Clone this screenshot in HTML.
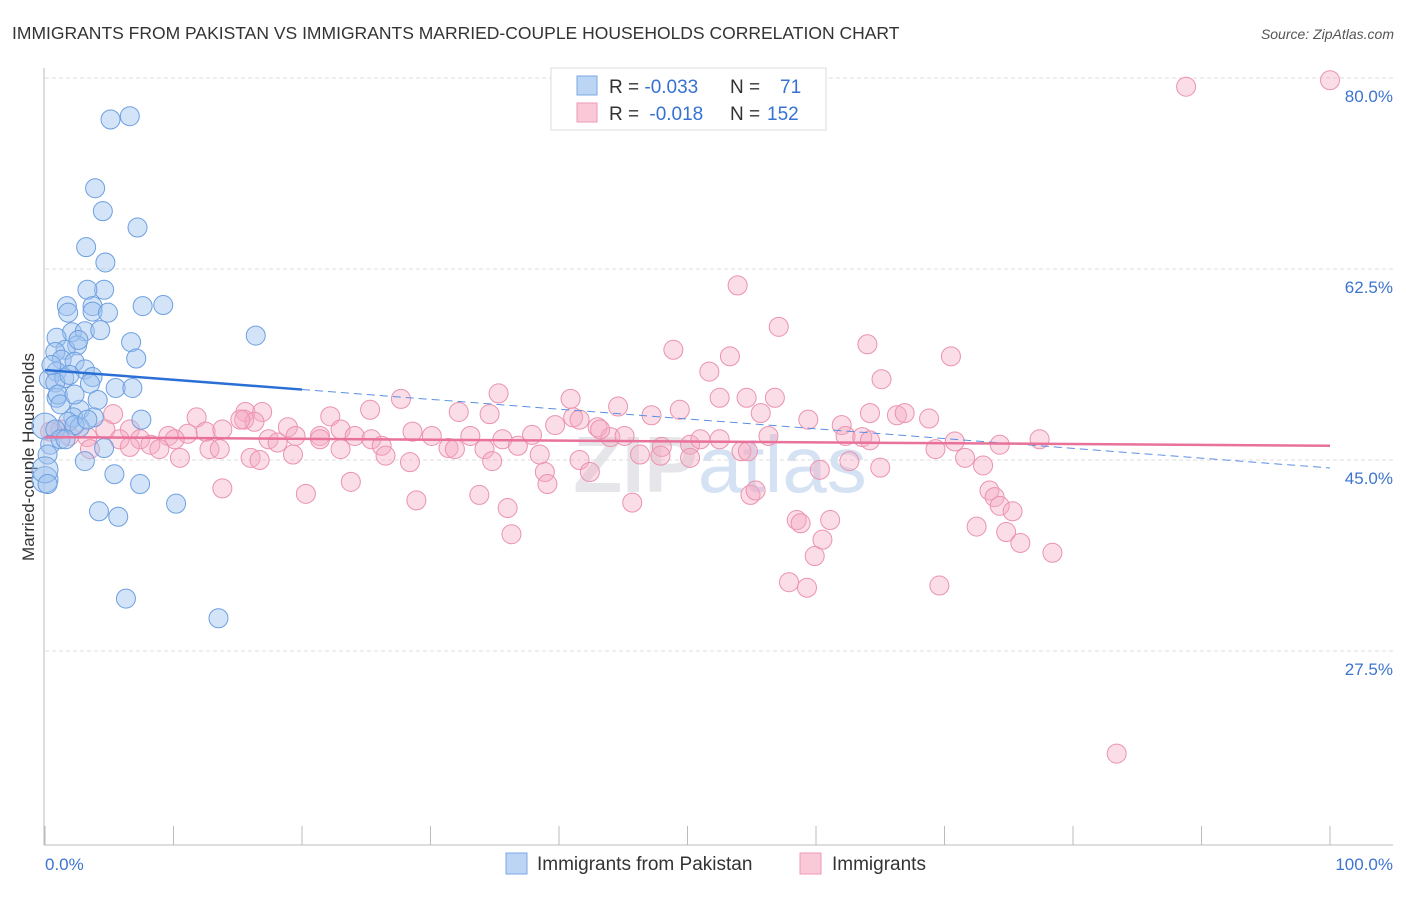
<!DOCTYPE html>
<html><head><meta charset="utf-8"><style>
body{margin:0;background:#fff;font-family:"Liberation Sans",sans-serif;}
</style></head><body>
<svg width="1406" height="892" viewBox="0 0 1406 892" xmlns="http://www.w3.org/2000/svg">
<text x="12" y="39" font-size="17.5" fill="#333">IMMIGRANTS FROM PAKISTAN VS IMMIGRANTS MARRIED-COUPLE HOUSEHOLDS CORRELATION CHART</text>
<text x="1394" y="39" font-size="14" fill="#555" font-style="italic" text-anchor="end">Source: ZipAtlas.com</text>
<text transform="translate(34,457) rotate(-90)" font-size="17" fill="#333" text-anchor="middle">Married-couple Households</text>
<text x="720" y="492" font-size="80" font-weight="bold" fill="#e6e6ea" text-anchor="middle">ZIP<tspan fill="#d4e2f4" font-weight="normal">atlas</tspan></text>
<g id="grid"></g>
<g id="axes"></g>
<g id="pts"></g>
<g id="trend"></g>
<g>
<rect x="551" y="68" width="275" height="62" fill="#fff" stroke="#ddd"/>
<rect x="577" y="76" width="20" height="19" fill="#bcd5f5" stroke="#7aa8e4"/>
<rect x="577" y="103" width="20" height="19" fill="#f9c9d7" stroke="#ee9ab4"/>
<text x="609" y="93" font-size="19" fill="#333">R = <tspan fill="#3572d4">-0.033</tspan><tspan x="730">N = </tspan><tspan x="780" fill="#3572d4">71</tspan></text>
<text x="609" y="120" font-size="19" fill="#333">R = <tspan fill="#3572d4" dx="5">-0.018</tspan><tspan x="730">N = </tspan><tspan x="767" fill="#3572d4">152</tspan></text>
</g>
<g>
<rect x="506" y="853" width="21" height="21" fill="#bcd5f5" stroke="#7aa8e4"/>
<text x="537" y="870" font-size="19" fill="#333">Immigrants from Pakistan</text>
<rect x="800" y="853" width="21" height="21" fill="#f9c9d7" stroke="#ee9ab4"/>
<text x="832" y="870" font-size="19" fill="#333">Immigrants</text>
</g>
</svg>
<script>
const yTicks=[80,62.5,45,27.5];
const yTickLabels=["80.0%","62.5%","45.0%","27.5%"];
const xTickVals=[0,10,20,30,40,50,60,70,80,90,100];
const blueX=[5.1,6.6,3.9,4.5,7.2,3.2,4.7,4.6,3.3,1.7,3.7,3.7,4.9,1.8,7.6,9.2,16.4,2.1,3.1,0.9,6.7,2.5,1.6,0.8,7.1,1.3,2.3,3.1,3.7,0.9,0.3,1.5,0.8,3.5,5.5,6.8,4.1,0.9,2.7,3.8,7.5,2.2,1.8,0,0.8,2.7,0.4,4.6,0.2,3.1,0,5.4,7.4,10.2,4.2,5.7,6.3,13.5,0,1.2,0.2,2.3,1.6,1.0,1.9,2.6,4.3,0.5,1.2,3.3,2.3];
const blueY=[76.2,76.5,69.9,67.8,66.3,64.5,63.1,60.6,60.6,59.1,59.1,58.6,58.5,58.5,59.1,59.2,56.4,56.7,56.8,56.2,55.8,55.5,55.1,54.9,54.3,54.2,54.0,53.3,52.6,53.1,52.4,52.5,52.1,52.0,51.6,51.6,50.5,50.7,49.6,48.9,48.7,48.9,48.5,48.1,47.8,48.0,46.4,46.1,45.5,44.9,43.2,43.7,42.8,41.0,40.3,39.8,32.3,30.5,44.1,46.9,42.8,48.2,46.9,51.0,52.8,56.0,56.9,53.7,50.1,48.7,51.0];
const pinkX=[100,88.8,53.9,57.1,48.9,64.0,53.3,70.5,51.7,65.1,35.3,40.9,27.7,15.6,16.9,5.3,11.8,41.1,55.7,59.4,62.0,64.2,66.3,66.9,68.8,44.6,47.2,49.4,52.5,54.6,56.8,32.2,34.6,25.3,22.2,15.5,18.9,16.3,15.2,6.6,9.6,11.1,12.5,13.8,4.7,1.2,1.9,3.3,5.8,7.4,8.2,10.1,12.8,17.4,18.1,19.5,21.4,23.0,24.1,25.4,26.2,28.6,30.1,31.4,33.1,34.2,35.6,36.8,37.9,39.7,41.6,43.0,44.0,45.1,46.3,48.0,50.2,51.0,54.2,56.3,62.3,63.6,69.3,70.8,71.6,77.4,3.5,6.6,8.9,13.6,16.0,19.3,23.0,26.5,28.4,31.9,34.8,38.5,41.6,47.9,50.2,54.7,60.3,62.6,65.0,73.0,38.9,42.4,13.8,20.3,23.8,28.9,33.8,36.0,39.1,45.7,54.9,55.3,58.5,58.8,61.1,60.5,59.9,73.5,73.9,74.3,75.3,72.5,74.8,75.9,78.4,57.9,59.3,69.6,36.3,83.4,0.4,10.5,21.4,43.2,52.5,64.2,74.3,16.7];
const pinkY=[79.8,79.2,61.0,57.2,55.1,55.6,54.5,54.5,53.1,52.4,51.1,50.6,50.6,49.4,49.4,49.2,48.9,48.9,49.3,48.7,48.2,49.3,49.1,49.3,48.8,49.9,49.1,49.6,50.7,50.7,50.7,49.4,49.2,49.6,49.0,48.7,48.0,48.5,48.7,47.8,47.2,47.4,47.6,47.8,47.8,47.8,47.2,47.1,46.9,46.9,46.4,46.9,46.0,46.9,46.6,47.2,47.2,47.8,47.2,46.9,46.3,47.6,47.2,46.1,47.2,46.0,46.9,46.3,47.3,48.2,48.7,48.0,47.1,47.2,45.5,46.2,46.4,46.9,45.8,47.2,47.2,47.1,46.0,46.7,45.2,46.9,46.0,46.2,46.0,46.0,45.2,45.5,46.0,45.4,44.8,46.0,44.9,45.5,45.0,45.4,45.2,45.8,44.1,44.9,44.3,44.5,43.9,43.9,42.4,41.9,43.0,41.3,41.8,40.6,42.8,41.1,41.8,42.2,39.5,39.2,39.5,37.7,36.2,42.2,41.6,40.8,40.3,38.9,38.4,37.4,36.5,33.8,33.3,33.5,38.2,18.1,47.6,45.2,46.9,47.8,46.9,46.8,46.4,45.0];
const blueTrend=[53.25,44.27];
const pinkTrend=[47.1,46.3];
const NS="http://www.w3.org/2000/svg";
const X=v=>45+v*12.85;
const Y=v=>460-(v-45)*10.914;
function mk(tag,attrs,parent){const e=document.createElementNS(NS,tag);for(const k in attrs)e.setAttribute(k,attrs[k]);document.getElementById(parent).appendChild(e);return e;}
yTicks.forEach((t,i)=>{
 const l=mk('line',{x1:45,x2:1393,y1:Y(t),y2:Y(t),stroke:'#ddd','stroke-dasharray':'4,3'},'grid');
 
 
 const tx=mk('text',{x:1393,y:Y(t)+24,'font-size':17,fill:'#3d74d0','text-anchor':'end'},'grid');
 tx.textContent=yTickLabels[i];
 
 
});
const ax=mk('line',{x1:44,x2:44,y1:68,y2:845,stroke:'#bbb'},'axes');


const bx=mk('line',{x1:44,x2:1393,y1:845,y2:845,stroke:'#bbb'},'axes');


xTickVals.forEach(v=>{const t=mk('line',{x1:X(v),x2:X(v),y1:826,y2:845,stroke:'#bbb'},'axes');
 
 });
const x0=mk('text',{x:45,y:870,'font-size':17,fill:'#3d74d0'},'axes');x0.textContent='0.0%';


const x1=mk('text',{x:1393,y:870,'font-size':17,fill:'#3d74d0','text-anchor':'end'},'axes');x1.textContent='100.0%';


pinkX.forEach((v,i)=>{const c=mk('circle',{cx:X(v),cy:Y(pinkY[i]),r:9.5,fill:'rgba(245,170,195,0.4)',stroke:'#eb93ae','stroke-width':1},'pts');
 
 });
blueX.forEach((v,i)=>{const c=mk('circle',{cx:X(v),cy:Y(blueY[i]),r:(v===0?13:9.5),fill:'rgba(160,195,240,0.45)',stroke:'#6d9fe0','stroke-width':1},'pts');
 
 });
const bY=x=>blueTrend[0]+(blueTrend[1]-blueTrend[0])*x/100;
const b1=mk('line',{x1:X(0),y1:Y(bY(0)),x2:X(20),y2:Y(bY(20)),stroke:'#2a6fd6','stroke-width':2.5},'trend');


const b2=mk('line',{x1:X(20),y1:Y(bY(20)),x2:X(100),y2:Y(bY(100)),stroke:'#5a8fe0','stroke-width':1,'stroke-dasharray':'8,5'},'trend');


const p1=mk('line',{x1:X(0),y1:Y(pinkTrend[0]),x2:X(100),y2:Y(pinkTrend[1]),stroke:'#e8729a','stroke-width':2.5},'trend');


</script>
</body></html>
